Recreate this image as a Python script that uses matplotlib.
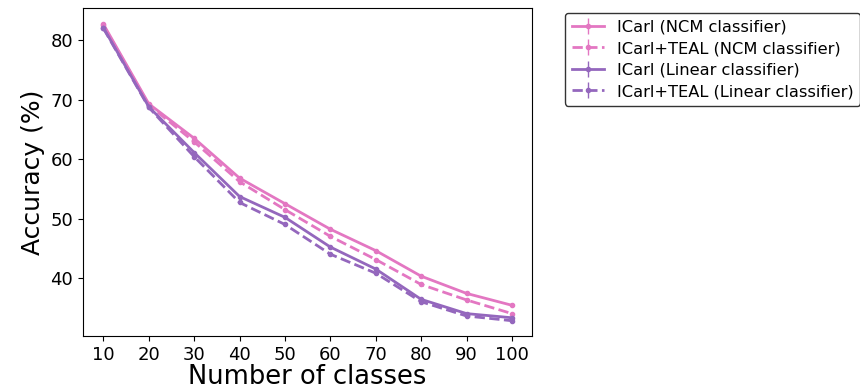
import numpy as np
import matplotlib.pyplot as plt

# number of classes seen so far
n_classes = [10, 20, 30, 40, 50, 60, 70, 80, 90, 100]

# accuracy values
icarl_ncm = [82.7, 69.3, 63.5, 56.8, 52.5, 48.2, 44.6, 40.3, 37.4, 35.4]
teal_ncm = [82.5, 69.1, 62.9, 56.2, 51.5, 47.0, 43.1, 38.9, 36.3, 34.0]
icarl_lin = [82.1, 68.8, 61.1, 53.7, 50.2, 45.2, 41.5, 36.4, 34.0, 33.3]
teal_lin = [82.0, 68.7, 60.4, 52.7, 49.0, 44.0, 40.8, 36.0, 33.6, 32.8]

# small std bars
err_ncm = [0.3, 0.3, 0.3, 0.3, 0.3, 0.3, 0.3, 0.3, 0.3, 0.3]
err_lin = [0.3, 0.3, 0.3, 0.3, 0.3, 0.3, 0.3, 0.3, 0.3, 0.3]

pink = '#e377c2'
purple = '#9467bd'

fig = plt.figure(figsize=(8.6, 3.9), dpi=100)
ax = fig.add_axes([0.0965, 0.138, 0.5225, 0.841])

style = dict(marker='.', markersize=6, linewidth=2, elinewidth=1)
ax.errorbar(n_classes, icarl_ncm, yerr=err_ncm, color=pink, label='ICarl (NCM classifier)', **style)
ax.errorbar(n_classes, teal_ncm, yerr=err_ncm, color=pink, linestyle='--',
            label='ICarl+TEAL (NCM classifier)', **style)
ax.errorbar(n_classes, icarl_lin, yerr=err_lin, color=purple, label='ICarl (Linear classifier)', **style)
ax.errorbar(n_classes, teal_lin, yerr=err_lin, color=purple, linestyle='--',
            label='ICarl+TEAL (Linear classifier)', **style)

ax.set_xticks(n_classes)
ax.set_ylim(30.2, 85.4)
ax.tick_params(labelsize=13)
ax.set_xlabel('Number of classes', fontsize=18.5, labelpad=0)
ax.set_ylabel('Accuracy (%)', fontsize=18)

ax.legend(loc='upper left', bbox_to_anchor=(1.055, 1.01), fontsize=11.7, labelspacing=0.4,
          edgecolor='black')

plt.savefig('out.png', dpi=100)
